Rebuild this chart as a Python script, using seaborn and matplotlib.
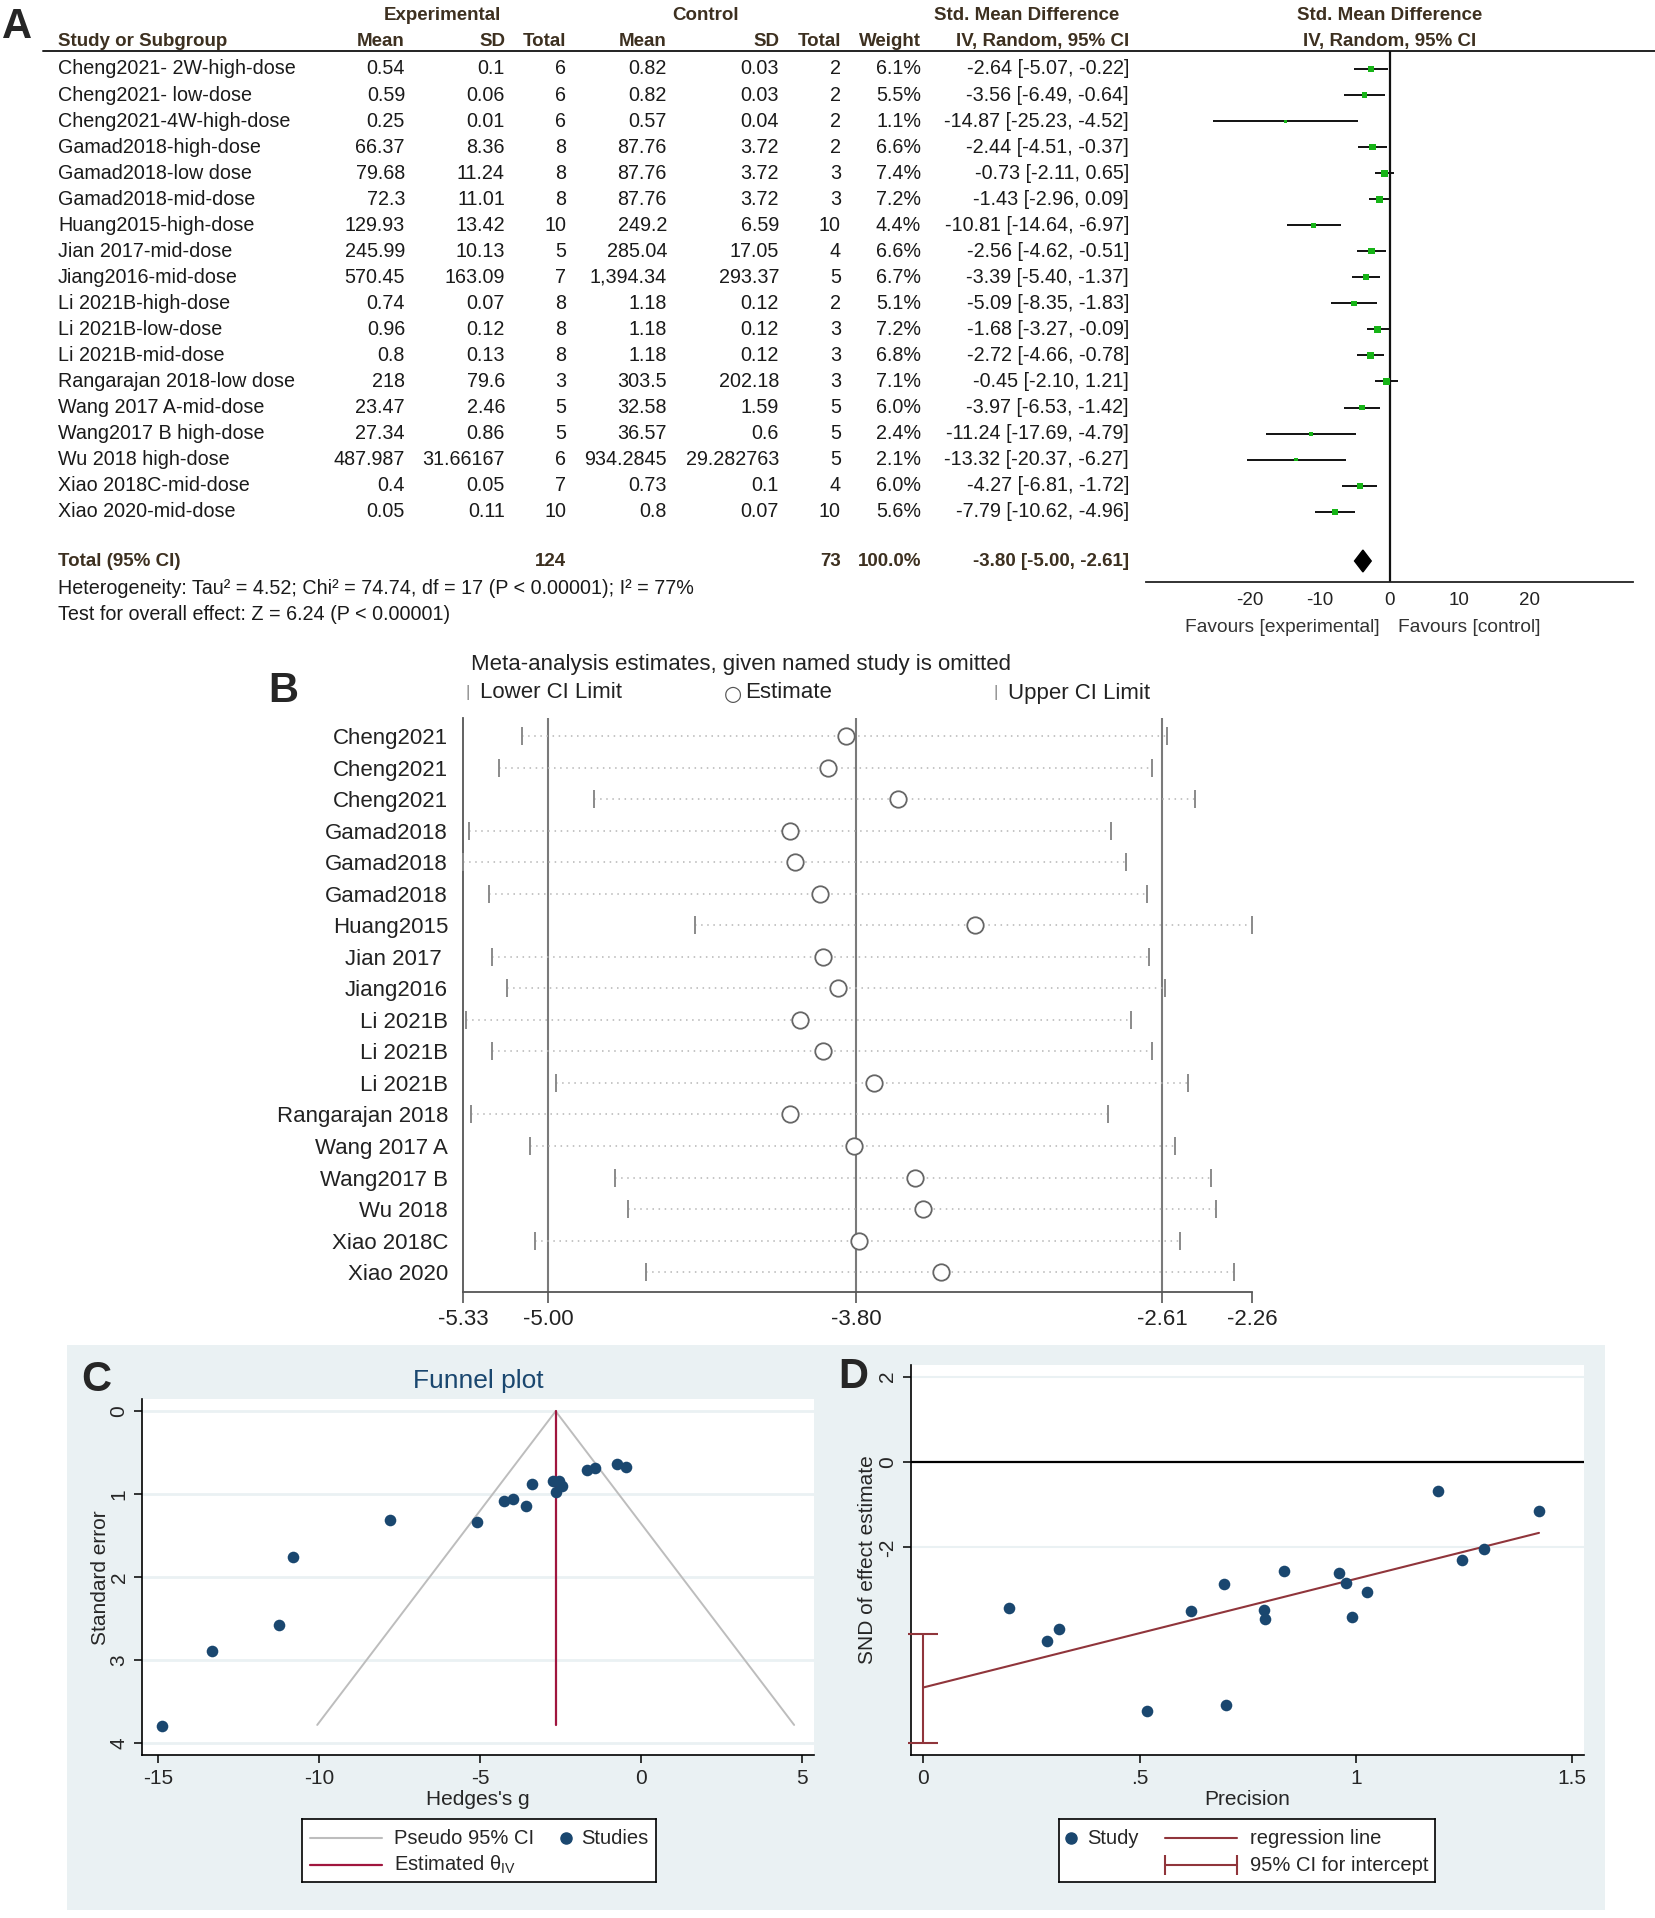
import numpy as np
import pandas as pd
import matplotlib
matplotlib.use('Agg')
import matplotlib.pyplot as plt
import seaborn as sns
from matplotlib.patches import Rectangle

sns.set_theme(style='white')
plt.rcParams['font.family'] = ['Liberation Sans', 'DejaVu Sans']
plt.rcParams['axes.unicode_minus'] = False

W, H = 1655, 1918

# ---------------- data: panel A (forest plot) ----------------
studies = ['Cheng2021- 2W-high-dose', 'Cheng2021- low-dose', 'Cheng2021-4W-high-dose',
           'Gamad2018-high-dose', 'Gamad2018-low dose', 'Gamad2018-mid-dose',
           'Huang2015-high-dose', 'Jian 2017-mid-dose', 'Jiang2016-mid-dose',
           'Li 2021B-high-dose', 'Li 2021B-low-dose', 'Li 2021B-mid-dose',
           'Rangarajan 2018-low dose', 'Wang 2017 A-mid-dose', 'Wang2017 B high-dose',
           'Wu 2018 high-dose', 'Xiao 2018C-mid-dose', 'Xiao 2020-mid-dose']
exp_mean = ['0.54', '0.59', '0.25', '66.37', '79.68', '72.3', '129.93', '245.99', '570.45',
            '0.74', '0.96', '0.8', '218', '23.47', '27.34', '487.987', '0.4', '0.05']
exp_sd = ['0.1', '0.06', '0.01', '8.36', '11.24', '11.01', '13.42', '10.13', '163.09',
          '0.07', '0.12', '0.13', '79.6', '2.46', '0.86', '31.66167', '0.05', '0.11']
exp_n = [6, 6, 6, 8, 8, 8, 10, 5, 7, 8, 8, 8, 3, 5, 5, 6, 7, 10]
ctl_mean = ['0.82', '0.82', '0.57', '87.76', '87.76', '87.76', '249.2', '285.04', '1,394.34',
            '1.18', '1.18', '1.18', '303.5', '32.58', '36.57', '934.2845', '0.73', '0.8']
ctl_sd = ['0.03', '0.03', '0.04', '3.72', '3.72', '3.72', '6.59', '17.05', '293.37',
          '0.12', '0.12', '0.12', '202.18', '1.59', '0.6', '29.282763', '0.1', '0.07']
ctl_n = [2, 2, 2, 2, 3, 3, 10, 4, 5, 2, 3, 3, 3, 5, 5, 5, 4, 10]
weight = [6.1, 5.5, 1.1, 6.6, 7.4, 7.2, 4.4, 6.6, 6.7, 5.1, 7.2, 6.8, 7.1, 6.0, 2.4, 2.1, 6.0, 5.6]
smd = [-2.64, -3.56, -14.87, -2.44, -0.73, -1.43, -10.81, -2.56, -3.39,
       -5.09, -1.68, -2.72, -0.45, -3.97, -11.24, -13.32, -4.27, -7.79]
smd_lo = [-5.07, -6.49, -25.23, -4.51, -2.11, -2.96, -14.64, -4.62, -5.40,
          -8.35, -3.27, -4.66, -2.10, -6.53, -17.69, -20.37, -6.81, -10.62]
smd_hi = [-0.22, -0.64, -4.52, -0.37, 0.65, 0.09, -6.97, -0.51, -1.37,
          -1.83, -0.09, -0.78, 1.21, -1.42, -4.79, -6.27, -1.72, -4.96]
total_exp, total_ctl = 124, 73
pooled = [-3.80, -5.00, -2.61]   # estimate, lower, upper

# ---------------- data: panel B (leave-one-out) ----------------
omit_labels = ['Cheng2021', 'Cheng2021', 'Cheng2021', 'Gamad2018', 'Gamad2018', 'Gamad2018',
               'Huang2015', 'Jian 2017 ', 'Jiang2016', 'Li 2021B', 'Li 2021B', 'Li 2021B',
               'Rangarajan 2018', 'Wang 2017 A', 'Wang2017 B', 'Wu 2018', 'Xiao 2018C', 'Xiao 2020']
omit_est = [-3.84, -3.91, -3.64, -4.06, -4.04, -3.94, -3.34, -3.93, -3.87,
            -4.02, -3.93, -3.73, -4.06, -3.81, -3.57, -3.54, -3.79, -3.47]
omit_lo = [-5.10, -5.19, -4.82, -5.31, -5.33, -5.23, -4.43, -5.22, -5.16,
           -5.32, -5.22, -4.97, -5.30, -5.07, -4.74, -4.69, -5.05, -4.62]
omit_hi = [-2.59, -2.65, -2.48, -2.81, -2.75, -2.67, -2.26, -2.66, -2.60,
           -2.73, -2.65, -2.51, -2.82, -2.56, -2.42, -2.40, -2.54, -2.33]
omit_ticks = [-5.33, -5.00, -3.80, -2.61, -2.26]

# ---------------- data: panel C (funnel) ----------------
funnel_se = [0.97, 1.14, 3.79, 0.90, 0.64, 0.69, 1.76, 0.84, 0.88,
             1.34, 0.71, 0.84, 0.67, 1.06, 2.58, 2.89, 1.08, 1.31]
theta_iv = -2.65
se_max = 3.78

# ---------------- data: panel D (Egger) ----------------
precision = [0.199, 0.286, 0.313, 0.517, 0.619, 0.696, 0.700, 0.788, 0.789,
             0.834, 0.962, 0.978, 0.991, 1.026, 1.190, 1.245, 1.297, 1.423]
snd = [-3.42, -4.18, -3.92, -5.84, -3.50, -2.85, -5.70, -3.46, -3.68,
       -2.55, -2.60, -2.83, -3.64, -3.05, -0.67, -2.29, -2.03, -1.14]
egger_intercept = -5.28
egger_slope = 2.544
egger_ci = [-6.57, -4.02]

navy = '#1A476F'
maroon = '#90353B'
crimson = '#A0153E'
hdr = '#3D3020'
bgblue = '#EAF1F3'


def px_rect(x0, y0, x1, y1):
    return [x0 / W, 1 - y1 / H, (x1 - x0) / W, (y1 - y0) / H]


fig = plt.figure(figsize=(W / 100, H / 100), dpi=100)
fig.patch.set_facecolor('white')

# ================= Panel A =================
row0, drow = 69, 26.04


def r_of(py):
    return (py - row0) / drow


ylimA = (r_of(640), r_of(0))
axA = fig.add_axes(px_rect(0, 0, W, 640))
axA.set_xlim(0, W)
axA.set_ylim(*ylimA)
axA.axis('off')

fs_body, fs_head = 14.2, 13.5
hrow1, hrow2, line_r = r_of(16), r_of(41.5), r_of(51)
axA.text(442, hrow1, 'Experimental', ha='center', va='center', fontsize=fs_head, fontweight='bold', color=hdr)
axA.text(706, hrow1, 'Control', ha='center', va='center', fontsize=fs_head, fontweight='bold', color=hdr)
axA.text(1027, hrow1, 'Std. Mean Difference', ha='center', va='center', fontsize=fs_head, fontweight='bold', color=hdr)
axA.text(58, hrow2, 'Study or Subgroup', ha='left', va='center', fontsize=fs_head, fontweight='bold', color=hdr)
cols = [405, 505, 566, 667, 779, 841, 921, 1129]
for x, lab in zip(cols, ['Mean', 'SD', 'Total', 'Mean', 'SD', 'Total', 'Weight', 'IV, Random, 95% CI']):
    axA.text(x, hrow2, lab, ha='right', va='center', fontsize=fs_head, fontweight='bold', color=hdr)
axA.axhline(line_r, xmin=43 / W, xmax=1.0, color='#222222', lw=1.4)

for i, s in enumerate(studies):
    vals = [exp_mean[i], exp_sd[i], str(exp_n[i]), ctl_mean[i], ctl_sd[i], str(ctl_n[i]),
            f'{weight[i]:.1f}%', f'{smd[i]:.2f} [{smd_lo[i]:.2f}, {smd_hi[i]:.2f}]']
    axA.text(58, i, s, ha='left', va='center', fontsize=fs_body, color='#1a1a1a')
    for x, v in zip(cols, vals):
        axA.text(x, i, v, ha='right', va='center', fontsize=fs_body, color='#1a1a1a')

tot_r = r_of(561)
axA.text(58, tot_r, 'Total (95% CI)', ha='left', va='center', fontsize=fs_head, fontweight='bold', color=hdr)
axA.text(cols[2], tot_r, str(total_exp), ha='right', va='center', fontsize=fs_head, fontweight='bold', color=hdr)
axA.text(cols[5], tot_r, str(total_ctl), ha='right', va='center', fontsize=fs_head, fontweight='bold', color=hdr)
axA.text(cols[6], tot_r, '100.0%', ha='right', va='center', fontsize=fs_head, fontweight='bold', color=hdr)
axA.text(cols[7], tot_r, f'{pooled[0]:.2f} [{pooled[1]:.2f}, {pooled[2]:.2f}]', ha='right', va='center',
         fontsize=fs_head, fontweight='bold', color=hdr)
axA.text(58, r_of(588), 'Heterogeneity: Tau² = 4.52; Chi² = 74.74, df = 17 (P < 0.00001); I² = 77%',
         ha='left', va='center', fontsize=fs_body, color='#1a1a1a')
axA.text(58, r_of(614), 'Test for overall effect: Z = 6.24 (P < 0.00001)',
         ha='left', va='center', fontsize=fs_body, color='#1a1a1a')

# forest graphic
axF = fig.add_axes(px_rect(1146, 0, 1633, 640))
axF.set_xlim(-34.8, 34.8)
axF.set_ylim(*ylimA)
axF.patch.set_alpha(0)
for sp in ['top', 'right', 'left']:
    axF.spines[sp].set_visible(False)
axis_r = r_of(582)
axF.spines['bottom'].set_position(('data', axis_r))
axF.spines['bottom'].set_color('#222222')
axF.spines['bottom'].set_linewidth(1.3)
axF.set_yticks([])
axF.set_xticks([-20, -10, 0, 10, 20])
axF.tick_params(axis='x', direction='inout', length=10, width=1.2, labelsize=13.5, pad=2, colors='#222222')
axF.text(0, hrow1, 'Std. Mean Difference', ha='center', va='center', fontsize=fs_head,
         fontweight='bold', color=hdr)
axF.text(0, hrow2, 'IV, Random, 95% CI', ha='center', va='center', fontsize=fs_head,
         fontweight='bold', color=hdr)
axF.vlines(0, line_r, axis_r, color='#111111', lw=1.6)
rows = np.arange(len(studies))
axF.hlines(rows, smd_lo, smd_hi, color='#111111', lw=1.4)
sizes = ((2 + 0.45 * np.array(weight)) * 0.72) ** 2 * 1.6
sns.scatterplot(x=smd, y=rows, ax=axF, marker='s', s=sizes, color='#17B417', edgecolor='none', legend=False, zorder=3)
axF.fill([pooled[1], pooled[0], pooled[2], pooled[0]],
         [tot_r, tot_r - 0.42, tot_r, tot_r + 0.42], color='black', zorder=3)
fav_r = r_of(627)
axF.text(-1.4, fav_r, 'Favours [experimental]', ha='right', va='center', fontsize=13.8, color='#333333')
axF.text(1.2, fav_r, 'Favours [control]', ha='left', va='center', fontsize=13.8, color='#333333')

fig.text(17 / W, 1 - 27 / H, 'A', fontsize=30, fontweight='bold', ha='center', va='center')

# ================= Panel B =================
axB = fig.add_axes(px_rect(463.4, 718, 1252, 1292))
axB.set_xlim(omit_ticks[0], omit_ticks[-1])
axB.set_ylim(17.63, -0.57)
axB.patch.set_alpha(0)
for sp in ['top', 'right']:
    axB.spines[sp].set_visible(False)
for sp in ['left', 'bottom']:
    axB.spines[sp].set_color('#555555')
    axB.spines[sp].set_linewidth(1.3)
brow = np.arange(len(omit_labels))
for v in pooled:
    axB.axvline(v, color='#7a7a7a', lw=1.5, zorder=1)
axB.hlines(brow, omit_lo, omit_hi, color='#b5b5b5', lw=1.1, linestyles=(0, (1, 3)), zorder=2)
axB.plot(omit_lo, brow, ls='none', marker='|', ms=13, mew=1.4, color='#8a8a8a', clip_on=False, zorder=3)
axB.plot(omit_hi, brow, ls='none', marker='|', ms=13, mew=1.4, color='#8a8a8a', clip_on=False, zorder=3)
sns.scatterplot(x=omit_est, y=brow, ax=axB, marker='o', s=140, facecolor='white', edgecolor='#666666',
                linewidth=1.3, legend=False, zorder=4)
axB.set_yticks(brow)
axB.set_yticklabels(omit_labels, fontsize=16, color='#222222')
axB.tick_params(axis='y', length=0, pad=11)
axB.set_xticks(omit_ticks)
axB.set_xticklabels([f'{t:.2f}' for t in omit_ticks], fontsize=16, color='#222222')
axB.tick_params(axis='x', direction='out', length=8, width=1.2, color='#555555', pad=4, bottom=True)
axB.grid(False)

fig.text(471 / W, 1 - 664.5 / H, 'Meta-analysis estimates, given named study is omitted', fontsize=16,
         ha='left', va='center', color='#222222')
fig.text(468 / W, 1 - 693 / H, '|', fontsize=12, ha='center', va='center', color='#8a8a8a')
fig.text(480 / W, 1 - 693 / H, 'Lower CI Limit', fontsize=16, ha='left', va='center', color='#222222')
fig.text(733 / W, 1 - 694 / H, '○', fontsize=15, ha='center', va='center', color='#555555',
         family='DejaVu Sans')
fig.text(745 / W, 1 - 693 / H, 'Estimate', fontsize=16, ha='left', va='center', color='#222222')
fig.text(996 / W, 1 - 693 / H, '|', fontsize=12, ha='center', va='center', color='#8a8a8a')
fig.text(1008 / W, 1 - 693 / H, 'Upper CI Limit', fontsize=16, ha='left', va='center', color='#222222')
fig.text(283 / W, 1 - 691 / H, 'B', fontsize=30, fontweight='bold', ha='center', va='center')

# ================= Panels C & D background =================
fig.patches.append(Rectangle((67 / W, 1 - 1910 / H), (1605 - 67) / W, (1910 - 1345) / H,
                             transform=fig.transFigure, facecolor=bgblue, edgecolor='none', zorder=-10))

# ================= Panel C =================
axC = fig.add_axes(px_rect(142.4, 1399, 813.8, 1755))
axC.set_facecolor('white')
axC.set_xlim(-15.49, 5.37)
axC.set_ylim(4.142, -0.147)
for sp in ['top', 'right']:
    axC.spines[sp].set_visible(False)
for sp in ['left', 'bottom']:
    axC.spines[sp].set_color('black')
    axC.spines[sp].set_linewidth(1.2)
axC.set_yticks([0, 1, 2, 3, 4])
axC.set_yticklabels(['0', '1', '2', '3', '4'], rotation=90, va='center', fontsize=15)
axC.set_xticks([-15, -10, -5, 0, 5])
axC.set_xticklabels(['-15', '-10', '-5', '0', '5'], fontsize=15)
axC.tick_params(axis='both', direction='out', length=6, width=1.1, color='black', left=True, bottom=True, pad=4)
axC.yaxis.grid(True, color=bgblue, lw=2)
axC.xaxis.grid(False)
axC.set_axisbelow(True)
se_line = np.array([0, se_max])
axC.plot(theta_iv - 1.96 * se_line, se_line, color='#BDBDBD', lw=1.4)
axC.plot(theta_iv + 1.96 * se_line, se_line, color='#BDBDBD', lw=1.4)
axC.plot([theta_iv, theta_iv], se_line, color=crimson, lw=1.6)
sns.scatterplot(x=smd, y=funnel_se, ax=axC, color=navy, s=70, edgecolor=navy, linewidth=0, legend=False, zorder=4)
axC.set_xlabel("Hedges's g", fontsize=15)
axC.set_ylabel('Standard error', fontsize=15)
axC.xaxis.set_label_coords(0.5, -0.098)
axC.yaxis.set_label_coords(-0.049, 0.497)
axC.set_title('Funnel plot', fontsize=19, color=navy, pad=8)
fig.text(96 / W, 1 - 1380 / H, 'C', fontsize=30, fontweight='bold', ha='center', va='center')

legC = fig.add_axes(px_rect(302, 1819, 656, 1882))
legC.set_xlim(302, 656)
legC.set_ylim(1882, 1819)
legC.set_xticks([])
legC.set_yticks([])
for sp in legC.spines.values():
    sp.set_color('black')
    sp.set_linewidth(1.2)
legC.plot([310, 382], [1838, 1838], color='#BDBDBD', lw=1.5)
legC.text(394.5, 1838, 'Pseudo 95% CI', fontsize=14.5, va='center', ha='left')
legC.plot([565.6], [1838], marker='o', ms=8, color=navy, ls='none')
legC.text(581, 1838, 'Studies', fontsize=14.5, va='center', ha='left')
legC.plot([310, 382], [1865, 1865], color=crimson, lw=1.6)
legC.text(394.5, 1865, r'Estimated θ$_{\mathregular{IV}}$', fontsize=14.5, va='center', ha='left')

# ================= Panel D =================
axD = fig.add_axes(px_rect(911, 1365, 1584, 1755))
axD.set_facecolor('white')
axD.set_xlim(-0.028, 1.527)
axD.set_ylim(-6.86, 2.27)
for sp in ['top', 'right']:
    axD.spines[sp].set_visible(False)
for sp in ['left', 'bottom']:
    axD.spines[sp].set_color('black')
    axD.spines[sp].set_linewidth(1.2)
axD.set_yticks([2, 0, -2])
axD.set_yticklabels(['2', '0', '-2'], rotation=90, va='center', fontsize=15)
axD.set_xticks([0, 0.5, 1, 1.5])
axD.set_xticklabels(['0', '.5', '1', '1.5'], fontsize=15)
axD.tick_params(axis='both', direction='out', length=6, width=1.1, color='black', left=True, bottom=True, pad=4)
axD.yaxis.grid(True, color=bgblue, lw=1.5)
axD.xaxis.grid(False)
axD.set_axisbelow(True)
axD.axhline(0, color='black', lw=1.6, zorder=2)
x_reg = np.array([0, max(precision)])
axD.plot(x_reg, egger_intercept + egger_slope * x_reg, color=maroon, lw=1.5, zorder=3)
axD.errorbar([0], [np.mean(egger_ci)], yerr=[[np.mean(egger_ci) - egger_ci[0]], [egger_ci[1] - np.mean(egger_ci)]],
             fmt='none', ecolor=maroon, elinewidth=1.5, capsize=11, capthick=1.5, zorder=3, clip_on=False)
sns.scatterplot(x=precision, y=snd, ax=axD, color=navy, s=70, edgecolor=navy, linewidth=0, legend=False, zorder=4)
axD.set_xlabel('Precision', fontsize=15)
axD.set_ylabel('SND of effect estimate', fontsize=15)
axD.xaxis.set_label_coords(0.5, -0.090)
axD.yaxis.set_label_coords(-0.051, 0.5)
fig.text(853 / W, 1 - 1377 / H, 'D', fontsize=30, fontweight='bold', ha='center', va='center')

legD = fig.add_axes(px_rect(1059, 1819, 1435, 1882))
legD.set_xlim(1059, 1435)
legD.set_ylim(1882, 1819)
legD.set_xticks([])
legD.set_yticks([])
for sp in legD.spines.values():
    sp.set_color('black')
    sp.set_linewidth(1.2)
legD.plot([1071], [1838], marker='o', ms=8, color=navy, ls='none')
legD.text(1087, 1838, 'Study', fontsize=14.5, va='center', ha='left')
legD.plot([1165, 1237], [1838, 1838], color=maroon, lw=1.5)
legD.text(1250, 1838, 'regression line', fontsize=14.5, va='center', ha='left')
legD.plot([1165, 1237], [1865, 1865], color=maroon, lw=1.5, marker='|', ms=14, mew=1.5)
legD.text(1250, 1865, '95% CI for intercept', fontsize=14.5, va='center', ha='left')

fig.savefig('out.png', dpi=100)
